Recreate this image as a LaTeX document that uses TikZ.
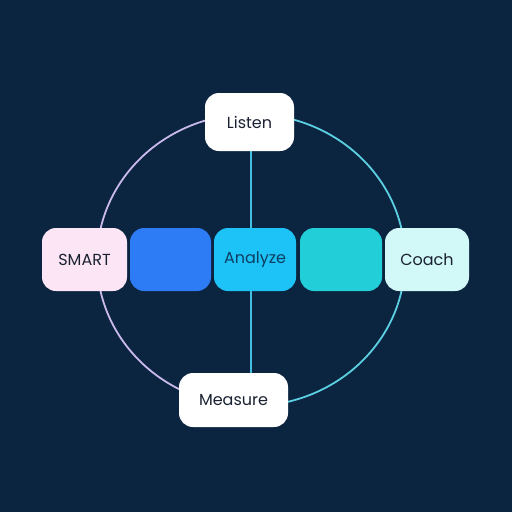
\documentclass[tikz,border=0pt]{standalone}
\usepackage{fontspec}
\setmainfont{Poppins}
\usetikzlibrary{backgrounds}
\definecolor{bg}{HTML}{0B2540}
\definecolor{lav}{HTML}{C9B9EC}
\definecolor{cyanline}{HTML}{5CCFE2}
\definecolor{vline}{HTML}{45BEDF}
\definecolor{smartfill}{HTML}{FCE6F6}
\definecolor{bluefill}{HTML}{2E7BF6}
\definecolor{skyfill}{HTML}{1DC3F7}
\definecolor{tealfill}{HTML}{22CFD8}
\definecolor{coachfill}{HTML}{D3F8F8}
\definecolor{txt}{HTML}{1A2232}
\definecolor{atxt}{HTML}{0E3D63}
\tikzset{
  box/.style={rectangle, rounded corners=14pt, inner sep=0pt, font=\fontsize{16}{19}\selectfont, text=txt},
}
\begin{document}
\begin{tikzpicture}[x=1pt,y=-1pt]
\useasboundingbox (0,0) rectangle (512,512);
\node[box, fill=white, minimum width=89pt, minimum height=58pt] (listen) at (249.5,122) {Listen};
\node[box, fill=smartfill, minimum width=85pt, minimum height=63pt] (smart) at (84.5,259.5) {SMART};
\node[box, fill=bluefill, minimum width=81pt, minimum height=63pt] (blue) at (170.5,259.5) {};
\node[box, fill=skyfill, text=atxt, minimum width=82pt, minimum height=63pt] (analyze) at (255,259.5) {Analyze};
\node[box, fill=tealfill, minimum width=82pt, minimum height=63pt] (teal) at (341,259.5) {};
\node[box, fill=coachfill, minimum width=84pt, minimum height=63pt] (coach) at (427,259.5) {Coach};
\node[box, fill=white, minimum width=109pt, minimum height=54pt] (measure) at (233.5,400) {Measure};
\coordinate (ctr) at (251,260);
\begin{pgfonlayer}{background}
\fill[bg] (0,0) rectangle (512,512);
\draw[lav, line width=1.8pt] ([shift={(0,-146)}]ctr) arc[start angle=90, end angle=270, x radius=154, y radius=-146];
\draw[cyanline, line width=1.8pt] ([shift={(0,146)}]ctr) arc[start angle=270, end angle=450, x radius=154, y radius=-146];
\draw[vline, line width=1.8pt] (listen.south -| ctr) -- (analyze.north -| ctr);
\draw[vline, line width=1.8pt] (analyze.south -| ctr) -- (measure.north -| ctr);
\end{pgfonlayer}
\end{tikzpicture}
\end{document}
